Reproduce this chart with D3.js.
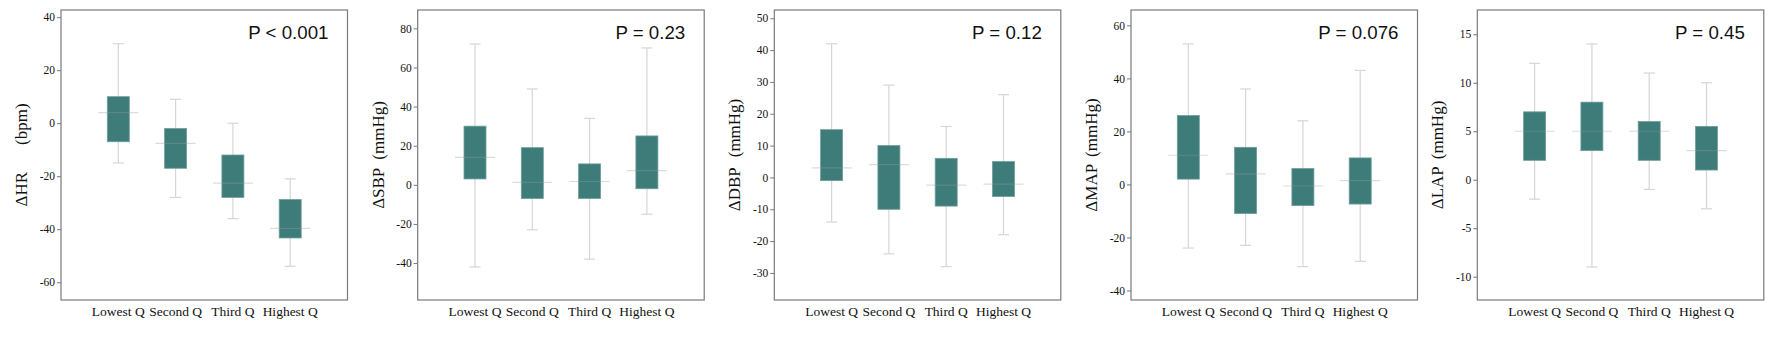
<!DOCTYPE html>
<html>
<head>
<meta charset="utf-8">
<script src="https://cdn.jsdelivr.net/npm/d3@7"></script>
<style>
  html, body { margin: 0; padding: 0; background: #fff; }
  svg { display: block; }
  .tick text { font-family: "Liberation Serif", "Times New Roman", serif; font-size: 11.5px; fill: #111; }
</style>
</head>
<body>
<svg id="chart" width="1772" height="339"></svg>
<script>
// ---- Data ----
const categories = ["Lowest Q", "Second Q", "Third Q", "Highest Q"];

// each entry: [whisker low, box low, median, box high, whisker high]
const hrStats  = [[-15, -7, 4, 10, 30], [-28, -17, -7.6, -2, 9], [-36, -28, -22.6, -12, 0], [-54, -43.3, -39.7, -28.8, -21]];
const sbpStats = [[-42, 3, 14, 30, 72], [-23, -7, 1.2, 19, 49], [-38, -7, 1.7, 10.7, 34], [-15, -2, 7.3, 25, 70]];
const dbpStats = [[-14, -1, 3, 15, 42], [-24, -10, 4, 10, 29], [-28, -9, -2.4, 6, 16], [-18, -6, -2.1, 5, 26]];
const mapStats = [[-24, 2, 11, 26, 53], [-23, -11, 4, 14, 36], [-31, -8, -0.6, 6, 24], [-29, -7.4, 1.4, 10, 43]];
const lapStats = [[-2, 2, 5, 7, 12], [-9, 3, 5, 8, 14], [-1, 2, 5, 6, 11], [-3, 1, 3, 5.5, 10]];

const labelMain  = ["ΔHR", "ΔSBP", "ΔDBP", "ΔMAP", "ΔLAP"];
const labelUnit  = ["(bpm)", "(mmHg)", "(mmHg)", "(mmHg)", "(mmHg)"];
const pValues    = ["P < 0.001", "P = 0.23", "P = 0.12", "P = 0.076", "P = 0.45"];

const hrTicks  = [-60, -40, -20, 0, 20, 40];
const sbpTicks = [-40, -20, 0, 20, 40, 60, 80];
const dbpTicks = [-30, -20, -10, 0, 10, 20, 30, 40, 50];
const mapTicks = [-40, -20, 0, 20, 40, 60];
const lapTicks = [-10, -5, 0, 5, 10, 15];

const hrRange  = [-66.7, 42.7];
const sbpRange = [-58.9, 89.4];
const dbpRange = [-38.5, 52.6];
const mapRange = [-43.6, 65.8];
const lapRange = [-12.4, 17.5];

// ---- Layout ----
const panels = [
  { stats: hrStats,  ticks: hrTicks,  range: hrRange,  left: 61,     gap: 27 },
  { stats: sbpStats, ticks: sbpTicks, range: sbpRange, left: 417.7,  gap: 8 },
  { stats: dbpStats, ticks: dbpTicks, range: dbpRange, left: 774.3,  gap: 10 },
  { stats: mapStats, ticks: mapTicks, range: mapRange, left: 1131,   gap: 7 },
  { stats: lapStats, ticks: lapTicks, range: lapRange, left: 1477.3, gap: 7 }
];
const plotTop = 10, plotBottom = 300, pw = 286.5;
const boxW = 22, capW = 11, medW = 40;
const boxColor = "#3d7c78";

const svg = d3.select("#chart");

panels.forEach((p, i) => {
  const g = svg.append("g").attr("transform", `translate(${p.left},0)`);
  const x = d3.scalePoint().domain(categories).range([0, pw]).padding(1);
  const y = d3.scaleLinear().domain(p.range).range([plotBottom, plotTop]);

  // y axis
  const ax = g.append("g")
    .call(d3.axisLeft(y).tickValues(p.ticks).tickSize(4).tickPadding(2).tickFormat(d => String(d)));
  ax.select(".domain").remove();
  ax.selectAll(".tick line").attr("stroke", "#777");

  // frame
  g.append("rect")
    .attr("x", 0).attr("y", plotTop).attr("width", pw).attr("height", plotBottom - plotTop)
    .attr("fill", "none").attr("stroke", "#7a7a7a").attr("stroke-width", 1.2);

  const items = g.selectAll(".item").data(p.stats).enter().append("g")
    .attr("transform", (d, k) => `translate(${x(categories[k])},0)`);

  // whisker
  items.append("line")
    .attr("x1", 0).attr("x2", 0)
    .attr("y1", d => y(d[0])).attr("y2", d => y(d[4]))
    .attr("stroke", "#d6d6d6").attr("stroke-width", 1.2);
  items.append("line")
    .attr("x1", -capW / 2).attr("x2", capW / 2)
    .attr("y1", d => y(d[4])).attr("y2", d => y(d[4]))
    .attr("stroke", "#d6d6d6").attr("stroke-width", 1.2);
  items.append("line")
    .attr("x1", -capW / 2).attr("x2", capW / 2)
    .attr("y1", d => y(d[0])).attr("y2", d => y(d[0]))
    .attr("stroke", "#d6d6d6").attr("stroke-width", 1.2);

  // box
  items.append("rect")
    .attr("x", -boxW / 2).attr("width", boxW)
    .attr("y", d => y(d[3])).attr("height", d => y(d[1]) - y(d[3]))
    .attr("fill", boxColor).attr("stroke", "#6f9e9b").attr("stroke-width", 0.8);

  // median
  items.append("line")
    .attr("x1", -medW / 2).attr("x2", medW / 2)
    .attr("y1", d => y(d[2])).attr("y2", d => y(d[2]))
    .attr("stroke", "#9a9a9a").attr("stroke-opacity", 0.35).attr("stroke-width", 1.2);

  // x labels
  g.selectAll(".xl").data(categories).enter().append("text")
    .attr("x", d => x(d)).attr("y", 316)
    .attr("text-anchor", "middle")
    .attr("font-family", "Liberation Serif, Times New Roman, serif")
    .attr("font-size", 13.5).attr("fill", "#111")
    .text(d => d);

  // p value
  g.append("text")
    .attr("x", pw - 19).attr("y", 38.5)
    .attr("text-anchor", "end")
    .attr("font-family", "Liberation Sans, Arial, sans-serif")
    .attr("font-size", 18.7).attr("fill", "#111")
    .text(pValues[i]);

  // y label
  const yl = g.append("text")
    .attr("transform", `translate(-34,${(plotTop + plotBottom) / 2}) rotate(-90)`)
    .attr("text-anchor", "middle")
    .attr("font-family", "Liberation Serif, Times New Roman, serif")
    .attr("font-size", 17).attr("fill", "#111");
  yl.append("tspan").text(labelMain[i]);
  yl.append("tspan").attr("dx", p.gap).text(labelUnit[i]);
});
</script>
</body>
</html>
